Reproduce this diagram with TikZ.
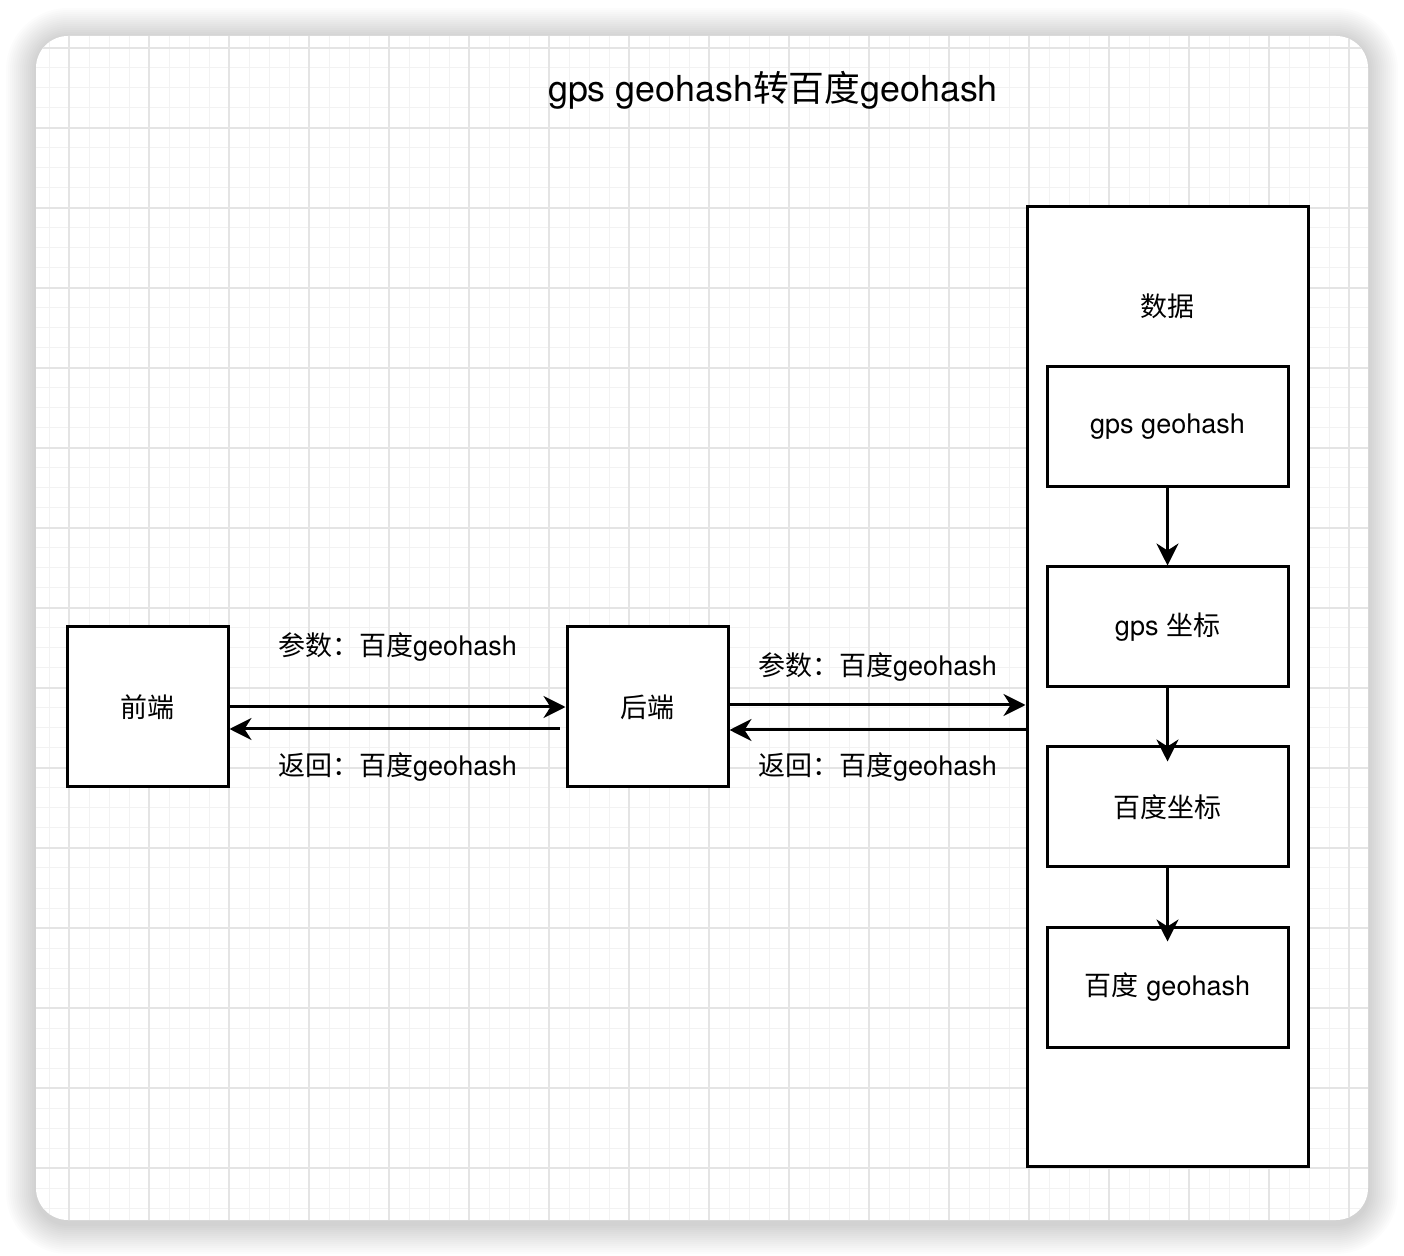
\documentclass[tikz,border=0pt]{standalone}
\usepackage{fontspec}
\setmainfont{TeX Gyre Heros}
\newfontfamily\cjk{Noto Sans CJK SC}
\usetikzlibrary{arrows.meta}
\usetikzlibrary{positioning}
\usepackage{xcolor}
\definecolor{gridminor}{HTML}{F2F2F2}
\definecolor{gridmajor}{HTML}{E4E4E4}

\begin{document}
\begin{tikzpicture}[
    x=0.5pt, y=-0.5pt,  % one unit = one pixel of the screenshot
    block/.style={
        rectangle,
        draw=black,
        fill=white,
        line width=1.5pt,
        minimum width=80.5pt,
        minimum height=80pt,
        align=center,
        inner sep=0pt,
        font=\fontsize{13.5}{16}\selectfont
    },
    inbox/.style={
        block,
        minimum width=120.5pt,
        minimum height=60pt
    },
    myarrow/.style={
        -{Stealth[length=11pt, width=11pt, inset=3.5pt]},
        line width=1.5pt,
        draw=black
    },
    caption/.style={
        font=\fontsize{13.5}{16}\selectfont,
        inner sep=0pt
    },
    title/.style={
        font=\fontsize{17.9}{20}\selectfont,
        inner sep=0pt
    }
]
\useasboundingbox (0,0) rectangle (1404,1256);

% soft shadow round the card
\foreach \i in {1,...,15}{
    \pgfmathsetmacro\rr{16+\i}
    \fill[black, opacity=0.01, rounded corners=\rr pt]
        (36-2*\i,38-2*\i) rectangle (1368+2*\i,1224+2*\i);
}
\fill[white, rounded corners=16pt] (36,36) rectangle (1368,1220);

% grid paper
\begin{scope}
    \clip[rounded corners=16pt] (36,36) rectangle (1368,1220);
    \foreach \x in {49,69,...,1369} \draw[gridminor, line width=0.5pt] (\x,36) -- (\x,1220);
    \foreach \y in {48,68,...,1220} \draw[gridminor, line width=0.5pt] (36,\y) -- (1368,\y);
    \foreach \x in {69,149,...,1369} \draw[gridmajor, line width=0.75pt] (\x,36) -- (\x,1220);
    \foreach \y in {48,128,...,1220} \draw[gridmajor, line width=0.75pt] (36,\y) -- (1368,\y);
\end{scope}

\node[title] (head) at (773,90) {gps geohash{\cjk 转百度}geohash};

% front end and back end
\node[block] (front) at (147.5,707) {\cjk 前端};
\node[block, right=168pt of front] (back) {\cjk 后端};

% data column
\node[block, minimum width=140.5pt, minimum height=479.5pt] (data) at (1167.5,686.5) {};
\node[caption, below=44pt of data.north] (datalabel) {\cjk 数据};

\node[inbox] (gpshash) at (1167.5,427) {gps geohash};
\node[inbox, below=38.5pt of gpshash] (gpscoord) {gps {\cjk 坐标}};
\node[inbox, below=28.5pt of gpscoord] (bdcoord) {\cjk 百度坐标};
\node[inbox, below=28.5pt of bdcoord] (bdhash) {{\cjk 百度} geohash};

% requests and replies
\draw[myarrow] (front.east) -- node[caption, midway, yshift=30pt] {{\cjk 参数：百度}geohash} (back.west);
\draw[myarrow, shorten <=3pt] ([yshift=-11pt]back.west) -- node[caption, midway, yshift=-19pt] {{\cjk 返回：百度}geohash} ([yshift=-11pt]front.east);
\draw[myarrow] ([yshift=1pt]back.east) -- node[caption, midway, yshift=19pt] {{\cjk 参数：百度}geohash} ([yshift=1pt]back.east -| data.west);
\draw[myarrow] ([yshift=-11.5pt]back.east -| data.west) -- node[caption, midway, yshift=-18.5pt] {{\cjk 返回：百度}geohash} ([yshift=-11.5pt]back.east);

% conversion chain
\draw[myarrow] (gpshash) -- (gpscoord);
\draw[myarrow, shorten >=-8pt] (gpscoord) -- (bdcoord);
\draw[myarrow, shorten >=-8pt] (bdcoord) -- (bdhash);

\end{tikzpicture}
\end{document}
